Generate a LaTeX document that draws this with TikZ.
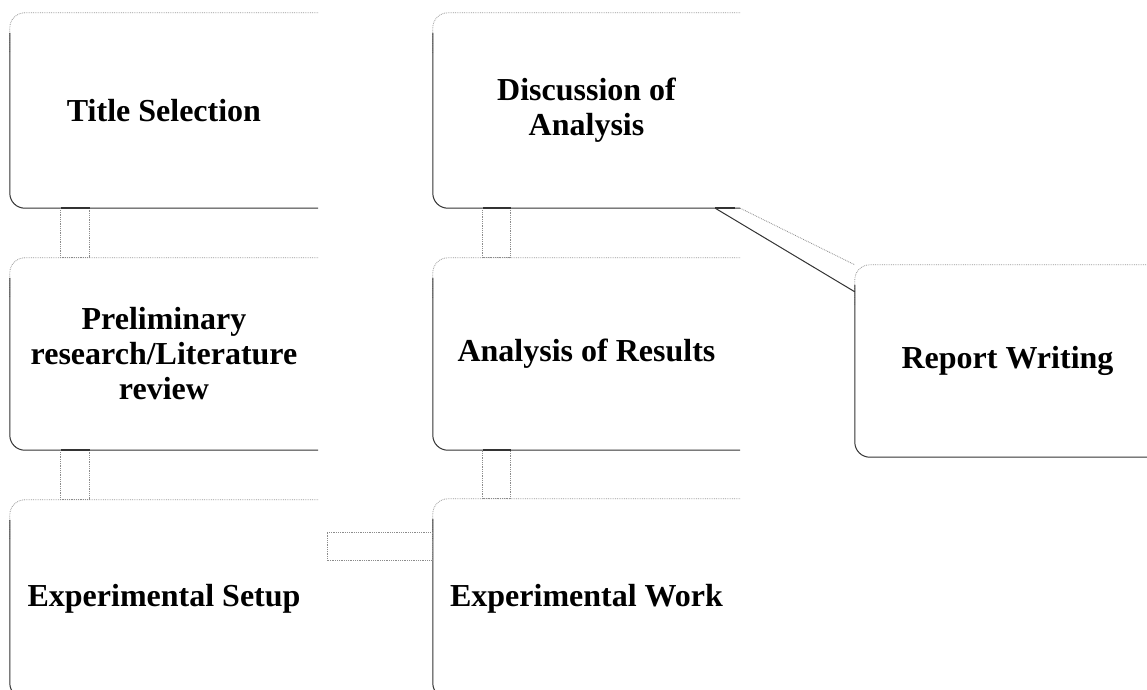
\documentclass[tikz,border=0pt]{standalone}
\usepackage{fontspec}
\setmainfont{Liberation Serif}
\newcommand\boxedges[1]{%
  \draw[topedge, rounded corners=15pt] (#1.north east) -- (#1.north west) -- ([yshift=-40pt]#1.north west);
  \draw[mainedge, rounded corners=15pt] ([yshift=-20pt]#1.north west) -- (#1.south west) -- (#1.south east);}
\begin{document}
\begin{tikzpicture}[x=1pt,y=-1pt,
  box/.style={minimum width=308pt, minimum height=195pt, inner sep=0pt, align=center,
    font=\fontsize{32}{35}\selectfont\bfseries},
  topedge/.style={draw=black!40, densely dotted, line width=0.8pt},
  mainedge/.style={draw=black!80, line width=1pt},
  pipe/.style={draw=black!45, densely dotted, line width=0.8pt},
  pipetop/.style={draw=black!80, line width=2pt}
]
\clip (0,0) rectangle (1147,689);
\fill[white] (0,0) rectangle (1147,689);

% left column
\node[box] (L1) at (164,110.5) {Title Selection};
\node[box, minimum height=192pt] (L2) at (164,354) {Preliminary\\research/Literature\\review};
\node[box, minimum height=198pt] (L3) at (164,599) {Experimental Setup};
% middle column
\node[box, minimum width=307pt] (M1) at (586.5,110.5) {Discussion of\\Analysis};
\node[box, minimum width=307pt, minimum height=192pt] (M2) at (586.5,354) {Analysis of Results};
\node[box, minimum width=307pt, minimum height=199pt] (M3) at (586.5,598.5) {Experimental Work};
% right
\node[box, minimum width=305pt, minimum height=192pt] (R) at (1007.5,361) {Report Writing};

\boxedges{L1}\boxedges{L2}\boxedges{L3}
\boxedges{M1}\boxedges{M2}\boxedges{M3}
\boxedges{R}

% vertical connectors, left column
\draw[pipe] ([xshift=51pt]L1.south west) rectangle ([xshift=80pt]L2.north west);
\draw[pipetop] ([xshift=51pt]L1.south west) -- ([xshift=80pt]L1.south west);
\draw[pipe] ([xshift=51pt]L2.south west) rectangle ([xshift=80pt]L3.north west);
\draw[pipetop] ([xshift=51pt]L2.south west) -- ([xshift=80pt]L2.south west);
% horizontal connector
\draw[pipe] ([xshift=9pt,yshift=-33pt]L3.north east) rectangle ([yshift=-62pt]M3.north west);
% vertical connectors, middle column
\draw[pipe] ([xshift=50pt]M3.north west) rectangle ([xshift=78pt]M2.south west);
\draw[pipetop] ([xshift=50pt]M2.south west) -- ([xshift=78pt]M2.south west);
\draw[pipe] ([xshift=50pt]M2.north west) rectangle ([xshift=78pt]M1.south west);
\draw[pipetop] ([xshift=50pt]M1.south west) -- ([xshift=78pt]M1.south west);
% connector to report writing
\draw[pipe] (M1.south east) -- (R.north west);
\draw[mainedge] ([xshift=-25pt]M1.south east) -- ([yshift=-27pt]R.north west);
\draw[pipetop] ([xshift=-25pt]M1.south east) -- ([xshift=-5pt]M1.south east);
\end{tikzpicture}
\end{document}
